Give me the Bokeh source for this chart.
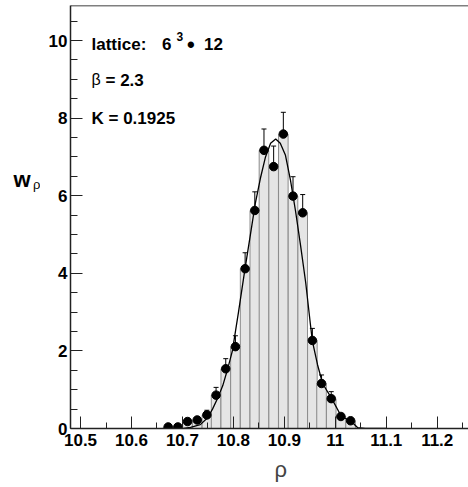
from bokeh.plotting import figure
from bokeh.layouts import row
from bokeh.models import ColumnDataSource, Whisker, TeeHead, Label, Span, FixedTicker, Range1d, Title
from bokeh.embed import file_html
from bokeh.resources import INLINE

# ---- data ----
rho = [10.672, 10.691, 10.710, 10.729, 10.748, 10.766, 10.785, 10.804, 10.823, 10.842,
       10.860, 10.879, 10.898, 10.917, 10.936, 10.955, 10.973, 10.992, 11.011, 11.030]
w = [0.04, 0.04, 0.18, 0.22, 0.35, 0.86, 1.54, 2.11, 4.12, 5.62,
     7.17, 6.75, 7.59, 5.99, 5.56, 2.27, 1.16, 0.77, 0.31, 0.20]
w_err = [0.03, 0.03, 0.06, 0.07, 0.12, 0.20, 0.26, 0.28, 0.41, 0.48,
         0.55, 0.53, 0.56, 0.50, 0.47, 0.31, 0.22, 0.18, 0.07, 0.06]
bin_width = 0.0188

fit_rho = [10.702, 10.716, 10.735, 10.749, 10.759, 10.769, 10.779, 10.788, 10.798, 10.810,
           10.822, 10.834, 10.843, 10.853, 10.863, 10.873, 10.883, 10.892, 10.902, 10.912,
           10.922, 10.932, 10.942, 10.951, 10.955, 10.965, 10.975, 10.993, 11.012, 11.030,
           11.044, 11.059, 11.100]
fit_w = [0.0, 0.03, 0.10, 0.27, 0.50, 0.78, 1.10, 1.50, 2.00, 3.00,
         4.05, 5.05, 5.80, 6.45, 7.00, 7.35, 7.46, 7.35, 7.05, 6.40,
         5.60, 4.70, 3.75, 2.70, 2.25, 1.65, 1.16, 0.77, 0.31, 0.20,
         0.02, 0.0, 0.0]

x_ticks = [10.5, 10.6, 10.7, 10.8, 10.9, 11.0, 11.1, 11.2]
x_tick_labels = ["10.5", "10.6", "10.7", "10.8", "10.9", "11", "11.1", "11.2"]
y_ticks = [0, 2, 4, 6, 8, 10]
y_tick_labels = ["0", "2", "4", "6", "8", "10"]

X0, X1 = 10.4803, 11.2614
Y0, Y1 = 0.0, 10.903

W, H = 468, 487
SIDE = 40                 # strip on the left holding the y-axis title
SIDE_H = 452
LEFT, TOP, BOTTOM = 70, 5, 59
frame_w = W - LEFT
frame_h = H - TOP - BOTTOM


def px2x(px):
    return X0 + (px - LEFT) * (X1 - X0) / frame_w


def px2y(py):
    return Y1 - (py - TOP) * (Y1 - Y0) / frame_h


FONT = "Liberation Sans"

p = figure(width=W - SIDE, height=H, output_backend="svg", toolbar_location=None,
           x_range=Range1d(X0, X1), y_range=Range1d(Y0, Y1),
           min_border_left=LEFT - SIDE, min_border_right=0, min_border_top=TOP,
           min_border_bottom=BOTTOM)
p.outline_line_color = None
p.xgrid.visible = False
p.ygrid.visible = False
p.background_fill_color = "white"
p.border_fill_color = "white"

# histogram bars
left = [r - bin_width / 2 for r in rho]
right = [r + bin_width / 2 for r in rho]
hist = ColumnDataSource(dict(left=left, right=right, top=w, bottom=[0] * len(w)))
p.quad(left="left", right="right", top="top", bottom="bottom", source=hist,
       fill_color="#e5e5e5", line_color="#8c8c8c", line_width=1)

# fit curve
p.line(fit_rho, fit_w, line_color="black", line_width=1.3)

# error bars
src = ColumnDataSource(dict(x=rho, y=w,
                            lo=[a - b for a, b in zip(w, w_err)],
                            hi=[a + b for a, b in zip(w, w_err)]))
wh = Whisker(base="x", lower="lo", upper="hi", source=src,
             line_color="black", line_width=1,
             upper_head=TeeHead(size=5, line_color="black", line_width=1),
             lower_head=TeeHead(size=5, line_color="black", line_width=1))
p.add_layout(wh)

# data points
p.scatter("x", "y", source=src, size=8.5, fill_color="black", line_color="black")

# top border line
p.add_layout(Span(location=Y1, dimension="width", line_color="black", line_width=1.5))

# axes
for ax in (p.xaxis[0], p.yaxis[0]):
    ax.axis_line_color = "#222222"
    ax.axis_line_width = 1.5
    ax.major_tick_line_color = "#222222"
    ax.minor_tick_line_color = "#222222"
    ax.major_tick_in = 12
    ax.major_tick_out = 0
    ax.minor_tick_in = 6
    ax.minor_tick_out = 0
    ax.major_label_text_font = FONT
    ax.major_label_text_font_style = "bold"
    ax.major_label_text_font_size = "17px"
    ax.major_label_text_color = "black"

p.yaxis[0].minor_tick_in = 7
p.xaxis[0].ticker = FixedTicker(ticks=x_ticks,
                                minor_ticks=[10.45 + 0.05 * i for i in range(18)])
p.xaxis[0].major_label_overrides = {t: l for t, l in zip(x_ticks, x_tick_labels)}
p.xaxis[0].major_label_standoff = 5
p.yaxis[0].ticker = FixedTicker(ticks=y_ticks,
                                minor_ticks=[0.5 * i for i in range(22)])
p.yaxis[0].major_label_overrides = {t: l for t, l in zip(y_ticks, y_tick_labels)}
p.yaxis[0].major_label_standoff = 3


def lab(fig, text, x, y, size, style="bold", align="left"):
    fig.add_layout(Label(x=x, y=y, text=text, text_font=FONT,
                         text_font_size=size, text_font_style=style,
                         text_color="black", text_baseline="alphabetic",
                         text_align=align))


# in-plot annotations (pixel positions converted to data)
lab(p, "lattice:", px2x(91), px2y(43.5), "17px")
lab(p, "6", px2x(161.5), px2y(43.5), "17px")
lab(p, "3", px2x(176), px2y(35.5), "12px")
lab(p, "\u2022", px2x(186.5), px2y(44), "22px")
lab(p, "12", px2x(203.5), px2y(43.5), "17px")
lab(p, "\u03b2", px2x(91), px2y(79), "16px", style="normal")
lab(p, "= 2.3", px2x(105), px2y(80), "17px")
lab(p, "K = 0.1925", px2x(91), px2y(118.3), "17px")

# x-axis title below the tick labels
p.add_layout(Title(text="\u03c1", align="right", offset=181.6, text_font=FONT,
                   text_font_size="22px", text_font_style="normal", standoff=12),
             "below")

# y-axis title strip (pixel coordinates, y downwards)
side = figure(width=SIDE, height=SIDE_H, output_backend="svg", toolbar_location=None,
              x_range=Range1d(0, SIDE), y_range=Range1d(SIDE_H, 0),
              min_border=0, outline_line_color=None)
side.axis.visible = False
side.grid.visible = False
side.border_fill_color = "white"
side.background_fill_color = "white"
lab(side, "w", 13, 203, "22px")
lab(side, "\u03c1", 32.5, 209, "13px", style="normal")

layout = row(side, p, spacing=0)
open("out.html", "w").write(file_html(layout, INLINE))
